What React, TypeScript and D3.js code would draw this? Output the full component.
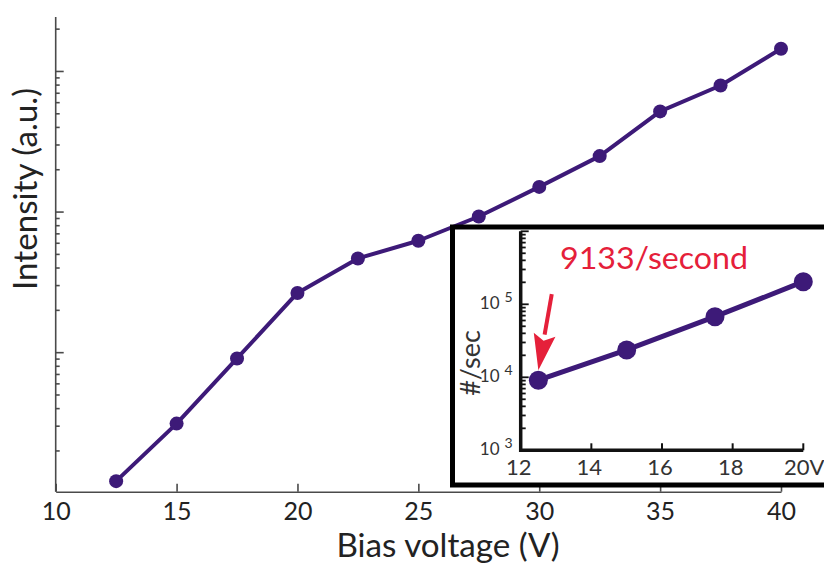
import React, {Component} from "react";
import * as d3 from "d3";

// main plot: intensity vs bias voltage (log y, arbitrary units)
const mainVolts = [12.5, 15, 17.5, 20, 22.5, 25, 27.5, 30, 32.5, 35, 37.5, 40];
const mainIntensity = [0.122, 0.313, 0.91, 2.66, 4.68, 6.25, 9.3, 15.1, 25.0, 52, 79.5, 145];
const mainXTicks = [10, 15, 20, 25, 30, 35, 40];

// inset: counts per second
const insetVolts = [12.5, 15, 17.5, 20];
const insetRate = [9133, 23700, 67600, 204000];
const insetXTicks = [12, 14, 16, 18, 20];
const insetXLabels = ["12", "14", "16", "18", "20V"];
const insetYExponents = [3, 4, 5];

const LINE = "#3d1a78";
const RED = "#e5203a";
const FONT = "Lato, 'Open Sans', sans-serif";

class App extends Component
{
    svgRef = React.createRef<SVGSVGElement>();

    componentDidMount()
    {
        this.renderChart();
    }

    renderChart()
    {
        const svg = d3.select(this.svgRef.current);
        svg.selectAll("*").remove();

        svg.append("rect").attr("width", 824).attr("height", 564).attr("fill", "#fff");

        // ---------- main axes ----------
        const x = d3.scaleLinear().domain([10, 40]).range([55.7, 781]);
        const y = d3.scaleLog().domain([0.1026, 244]).range([491.7, 17]);

        const main = svg.append("g");

        // left axis, ticks pointing inward
        main.append("line")
            .attr("x1", x(10)).attr("x2", x(10))
            .attr("y1", y.range()[1]).attr("y2", y.range()[0])
            .attr("stroke", "#4a4a4a")
            .attr("stroke-width", 1.6);

        const yTicks = y.ticks();
        main.selectAll(".ytick")
            .data(yTicks)
            .enter()
            .append("line")
            .attr("class", "ytick")
            .attr("x1", x(10))
            .attr("x2", (d) => x(10) + (Math.abs(Math.log10(d) - Math.round(Math.log10(d))) < 1e-6 ? 8 : 4))
            .attr("y1", (d) => y(d))
            .attr("y2", (d) => y(d))
            .attr("stroke", "#4a4a4a")
            .attr("stroke-width", 1.6);

        const xAxis = main.append("g")
            .attr("transform", `translate(0,${y.range()[0]})`)
            .call(
                d3.axisBottom(x)
                    .tickValues(mainXTicks)
                    .tickSizeInner(-8)
                    .tickSizeOuter(0)
                    .tickPadding(11)
                    .tickFormat(d3.format("d"))
            );
        xAxis.select(".domain").attr("stroke", "#4a4a4a").attr("stroke-width", 1.6);
        xAxis.selectAll(".tick line").attr("stroke", "#4a4a4a").attr("stroke-width", 1.6);
        xAxis.selectAll("text")
            .style("font-family", FONT)
            .style("font-size", "25px")
            .attr("fill", "#222");

        const line = d3.line<number>()
            .x((d, i) => x(mainVolts[i]))
            .y((d) => y(d));

        main.append("path")
            .datum(mainIntensity)
            .attr("d", line)
            .attr("fill", "none")
            .attr("stroke", LINE)
            .attr("stroke-width", 4)
            .attr("stroke-linejoin", "round");

        main.selectAll(".dot")
            .data(mainIntensity)
            .enter()
            .append("circle")
            .attr("class", "dot")
            .attr("cx", (d, i) => x(mainVolts[i]))
            .attr("cy", (d) => y(d))
            .attr("r", 7)
            .attr("fill", LINE);

        main.append("text")
            .attr("x", 448)
            .attr("y", 556.7)
            .attr("text-anchor", "middle")
            .attr("textLength", 223)
            .attr("lengthAdjust", "spacingAndGlyphs")
            .style("font-family", FONT)
            .style("font-size", "33px")
            .attr("fill", "#222")
            .text("Bias voltage (V)");

        main.append("text")
            .attr("transform", "translate(37,189) rotate(-90)")
            .attr("text-anchor", "middle")
            .attr("textLength", 202)
            .attr("lengthAdjust", "spacingAndGlyphs")
            .style("font-family", FONT)
            .style("font-size", "33px")
            .attr("fill", "#222")
            .text("Intensity (a.u.)");

        // ---------- inset ----------
        const inset = svg.append("g");

        inset.append("rect")
            .attr("x", 452.5)
            .attr("y", 227)
            .attr("width", 420)
            .attr("height", 258)
            .attr("fill", "#fff")
            .attr("stroke", "#000")
            .attr("stroke-width", 5);

        const ix = d3.scaleLinear().domain([12, 20]).range([520.7, 803.3]);
        const iy = d3.scaleLog().domain([1e3, 1e6]).range([450.3, 231.3]);

        // minor + major ticks on the inset y axis
        const iyTicks = iy.ticks();
        inset.selectAll(".iytick")
            .data(iyTicks)
            .enter()
            .append("line")
            .attr("class", "iytick")
            .attr("x1", ix(12))
            .attr("x2", (d) => ix(12) + (Math.abs(Math.log10(d) - Math.round(Math.log10(d))) < 1e-6 ? 8 : 5))
            .attr("y1", (d) => iy(d))
            .attr("y2", (d) => iy(d))
            .attr("stroke", "#111")
            .attr("stroke-width", 1.8);

        inset.selectAll(".ixtick")
            .data(insetXTicks.slice(1))
            .enter()
            .append("line")
            .attr("class", "ixtick")
            .attr("x1", (d) => ix(d))
            .attr("x2", (d) => ix(d))
            .attr("y1", iy(1e3))
            .attr("y2", iy(1e3) - 7)
            .attr("stroke", "#111")
            .attr("stroke-width", 2);

        inset.append("path")
            .attr("d", `M${ix(12)},${iy(1e6)}V${iy(1e3)}H${ix(20)}`)
            .attr("fill", "none")
            .attr("stroke", "#111")
            .attr("stroke-width", 3.5);

        inset.selectAll(".ixlabel")
            .data(insetXTicks)
            .enter()
            .append("text")
            .attr("class", "ixlabel")
            .attr("x", (d, i) => ix(d) + (i === insetXTicks.length - 1 ? 1 : -2))
            .attr("y", iy(1e3) + 25)
            .attr("text-anchor", "middle")
            .style("font-family", FONT)
            .style("font-size", "22px")
            .attr("fill", "#333")
            .text((d, i) => insetXLabels[i]);

        const iyLabels = inset.selectAll(".iylabel")
            .data(insetYExponents)
            .enter()
            .append("text")
            .attr("class", "iylabel")
            .attr("x", ix(12) - 8)
            .attr("y", (d) => iy(Math.pow(10, d)) + 5)
            .attr("text-anchor", "end")
            .style("font-family", FONT)
            .attr("fill", "#333");
        iyLabels.append("tspan").style("font-size", "17px").text("10");
        iyLabels.append("tspan")
            .attr("dx", 5)
            .attr("dy", -7)
            .style("font-size", "14px")
            .text((d) => String(d));

        inset.append("text")
            .attr("transform", "translate(480,363) rotate(-90)")
            .attr("text-anchor", "middle")
            .style("font-family", FONT)
            .style("font-size", "27px")
            .attr("fill", "#333")
            .text("#/sec");

        const iline = d3.line<number>()
            .x((d, i) => ix(insetVolts[i]))
            .y((d) => iy(d));

        inset.append("path")
            .datum(insetRate)
            .attr("d", iline)
            .attr("fill", "none")
            .attr("stroke", LINE)
            .attr("stroke-width", 5);

        inset.selectAll(".idot")
            .data(insetRate)
            .enter()
            .append("circle")
            .attr("class", "idot")
            .attr("cx", (d, i) => ix(insetVolts[i]))
            .attr("cy", (d) => iy(d))
            .attr("r", 9.5)
            .attr("fill", LINE);

        // annotation: arrow to first inset point
        const tipX = ix(insetVolts[0]);
        const tipY = iy(insetRate[0]) - 10;
        const tailX = tipX + 13.4;
        const tailY = tipY - 76;
        const len = Math.hypot(tipX - tailX, tipY - tailY);
        const ux = (tipX - tailX) / len;
        const uy = (tipY - tailY) / len;
        const px = -uy;
        const py = ux;
        const headLen = 36;
        const headHalf = 11;
        const bx = tipX - ux * headLen;
        const by = tipY - uy * headLen;

        inset.append("line")
            .attr("x1", tailX)
            .attr("y1", tailY)
            .attr("x2", bx)
            .attr("y2", by)
            .attr("stroke", RED)
            .attr("stroke-width", 4);

        inset.append("path")
            .attr("d", `M${tipX},${tipY}L${bx + px * headHalf},${by + py * headHalf}` +
                `L${tipX - ux * (headLen - 6)},${tipY - uy * (headLen - 6)}` +
                `L${bx - px * headHalf},${by - py * headHalf}Z`)
            .attr("fill", RED);

        inset.append("text")
            .attr("x", 560)
            .attr("y", 269)
            .attr("textLength", 188)
            .attr("lengthAdjust", "spacingAndGlyphs")
            .style("font-family", FONT)
            .style("font-size", "31px")
            .attr("fill", RED)
            .text("9133/second");
    }

    render()
    {
        return (
            <svg
                ref={this.svgRef}
                width={824}
                height={564}
                style={{position: "absolute", left: 0, top: 0, display: "block"}}
            ></svg>
        );
    }
}

export default App;
